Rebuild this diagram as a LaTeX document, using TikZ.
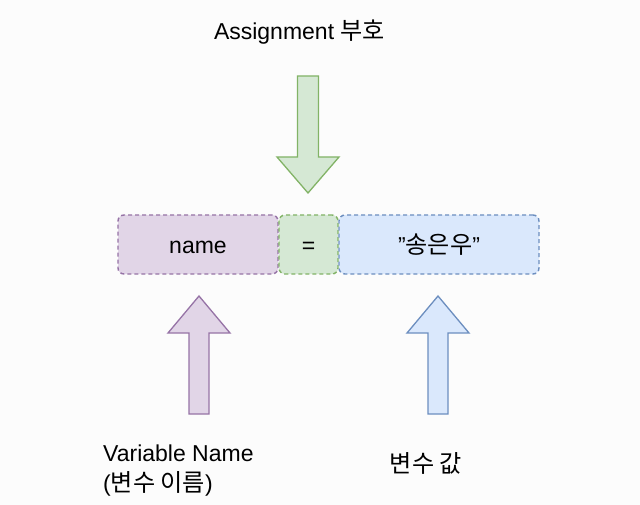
\documentclass[tikz,border=0pt]{standalone}
\usepackage{fontspec}
\setmainfont{Liberation Sans}
\newfontfamily\krfont[Scale=1.05]{Noto Sans CJK KR}
\usetikzlibrary{calc}
\definecolor{purplefill}{HTML}{E1D5E7}
\definecolor{purpleline}{HTML}{9673A6}
\definecolor{greenfill}{HTML}{D5E8D4}
\definecolor{greenline}{HTML}{82B366}
\definecolor{bluefill}{HTML}{DAE8FC}
\definecolor{blueline}{HTML}{6C8EBF}
\definecolor{bgcolor}{HTML}{FCFCFC}

\begin{document}
\begin{tikzpicture}[x=1pt, y=-1pt,
    box/.style={rounded corners=6pt, line width=1.4pt,
                dash pattern=on 4pt off 3pt,
                minimum height=59pt, inner sep=0pt,
                text height=20pt, text depth=2pt,
                font=\fontsize{23}{27}\selectfont},
    blockarrow/.style={line width=1.3pt, line join=miter},
    label/.style={inner sep=0pt, font=\fontsize{23}{30}\selectfont}]
  \fill[bgcolor] (0,0) rectangle (640,505);
  \useasboundingbox (0,0) rectangle (640,505);

  % Boxes
  \node[box, draw=purpleline, fill=purplefill, minimum width=160pt]
       (varname) at (198,244.5) {name};
  \node[box, draw=greenline, fill=greenfill, minimum width=59pt]
       (assign)  at (308.5,244.5) {=};
  \node[box, draw=blueline, fill=bluefill, minimum width=200pt]
       (value)   at (439,244.5) {\symbol{34}{\krfont 송은우}\symbol{34}};

  % Labels
  \node[label, anchor=base] (assignlabel) at (299.5,39.5)
       {Assignment {\krfont 부호}};
  \node[label, anchor=west, align=left] (namelabel) at (103,470.5)
       {Variable Name\\({\krfont 변수 이름})};
  \node[label, anchor=base] (valuelabel) at (426,472)
       {\krfont 변수 값};

  % Arrows
  \draw[blockarrow, draw=greenline, fill=greenfill]
       (297.5,76) -- (318.5,76) -- (318.5,157) -- (339,157) -- (308,193)
       -- (277,157) -- (297.5,157) -- cycle;
  \draw[blockarrow, draw=purpleline, fill=purplefill]
       (189,414) -- (209,414) -- (209,333) -- (230,333) -- (199,296)
       -- (168,333) -- (189,333) -- cycle;
  \draw[blockarrow, draw=blueline, fill=bluefill]
       (428,414) -- (448,414) -- (448,333) -- (469,333) -- (438,296)
       -- (407,333) -- (428,333) -- cycle;
\end{tikzpicture}
\end{document}
